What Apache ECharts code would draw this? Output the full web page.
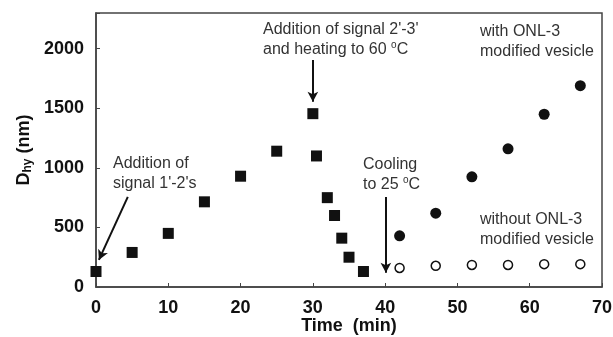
<!DOCTYPE html>
<html>
<head>
<meta charset="utf-8">
<script src="https://cdn.jsdelivr.net/npm/echarts@6/dist/echarts.min.js"></script>
<style>
  html, body { margin: 0; padding: 0; background: #fff; }
  #chart { width: 613px; height: 337px; }
</style>
</head>
<body>
<div id="chart"></div>
<script>
// heating run (squares)
const squareTime = [0, 5, 10, 15, 20, 25, 30, 30.5, 32, 33, 34, 35, 37]
const squareSize = [130, 290, 450, 715, 930, 1140, 1455, 1100, 750, 600, 410, 250, 130]
// after cooling
const vesicleTime = [42, 47, 52, 57, 62, 67]
const withOnl = [430, 620, 925, 1160, 1450, 1690]
const withoutOnl = [160, 178, 185, 185, 192, 192]

const xTicks = [0, 10, 20, 30, 40, 50, 60, 70]
const yTicks = [0, 500, 1000, 1500, 2000]

// annotation arrows, [from, to] in data units
const arrows = [
  [[4.4, 756], [0.4, 227]],
  [[30, 1905], [30, 1555]],
  [[40.1, 756], [40.1, 120]],
]

const font = '"Liberation Sans", Arial, sans-serif'
const ink = '#111'
const note = '#333'

const chart = echarts.init(document.getElementById('chart'))

function pair(xs, ys) {
  return xs.map((x, i) => [x, ys[i]])
}

function noteText(left, top, text) {
  return {
    type: 'text',
    left,
    top,
    style: {
      text,
      font: '16px ' + font,
      fill: note,
      lineHeight: 20,
      rich: {
        sup: { fontSize: 10, verticalAlign: 'top', fill: note, padding: [0, 0, 7, 0] },
      },
    },
  }
}

chart.setOption({
  animation: false,
  grid: {
    left: 96, right: 11, top: 13, bottom: 50,
    outerBoundsMode: 'none',
    show: true, borderColor: '#444', borderWidth: 1.5,
  },
  xAxis: {
    type: 'value',
    min: 0, max: 70, interval: 10,
    name: 'Time  (min)',
    nameLocation: 'middle',
    nameGap: 30,
    nameMoveOverlap: false,
    nameTextStyle: { fontFamily: font, fontWeight: 'bold', fontSize: 18, color: ink },
    axisLine: { show: true, lineStyle: { color: '#444', width: 1.5 } },
    axisTick: { show: true, inside: true, length: 4, lineStyle: { color: '#444' } },
    axisLabel: {
      fontFamily: font, fontWeight: 'bold', fontSize: 18, color: ink, margin: 12,
      formatter: v => (xTicks.includes(v) ? String(v) : ''),
    },
    splitLine: { show: false },
  },
  yAxis: {
    type: 'value',
    min: 0, max: 2300, interval: 500,
    name: 'D{sub|hy} (nm)',
    nameLocation: 'middle',
    nameRotate: 90,
    nameGap: 62,
    nameMoveOverlap: false,
    nameTextStyle: {
      fontFamily: font, fontWeight: 'bold', fontSize: 18, color: ink,
      rich: { sub: { fontFamily: font, fontWeight: 'bold', fontSize: 12, color: ink, verticalAlign: 'bottom', padding: [8, 0, 0, 0] } },
    },
    axisLine: { show: true, lineStyle: { color: '#444', width: 1.5 } },
    axisTick: { show: true, inside: true, length: 4, lineStyle: { color: '#444' } },
    axisLabel: {
      fontFamily: font, fontWeight: 'bold', fontSize: 18, color: ink, margin: 12,
      formatter: v => (yTicks.includes(v) ? String(v) : ''),
    },
    splitLine: { show: false },
  },
  series: [
    {
      name: 'heating',
      type: 'scatter',
      symbol: 'rect',
      symbolSize: 11,
      itemStyle: { color: ink, opacity: 1 },
      data: pair(squareTime, squareSize),
      markLine: {
        silent: true,
        symbol: ['none', 'arrow'],
        symbolSize: [8, 10],
        label: { show: false },
        lineStyle: { color: ink, width: 2, type: 'solid' },
        data: arrows.map(a => [{ coord: a[0] }, { coord: a[1] }]),
      },
    },
    {
      name: 'with ONL-3',
      type: 'scatter',
      symbol: 'circle',
      symbolSize: 11,
      itemStyle: { color: ink, opacity: 1 },
      data: pair(vesicleTime, withOnl),
    },
    {
      name: 'without ONL-3',
      type: 'scatter',
      symbol: 'circle',
      symbolSize: 9,
      itemStyle: { color: '#fff', borderColor: ink, borderWidth: 1.5, opacity: 1 },
      data: pair(vesicleTime, withoutOnl),
    },
  ],
  graphic: [
    noteText(113, 154, "Addition of\nsignal 1'-2's"),
    noteText(263, 20, "Addition of signal 2'-3'\nand heating to 60 {sup|o}C"),
    noteText(363, 155, 'Cooling\nto 25 {sup|o}C'),
    noteText(480, 22, 'with ONL-3\nmodified vesicle'),
    noteText(480, 210, 'without ONL-3\nmodified vesicle'),
  ],
})
</script>
</body>
</html>
